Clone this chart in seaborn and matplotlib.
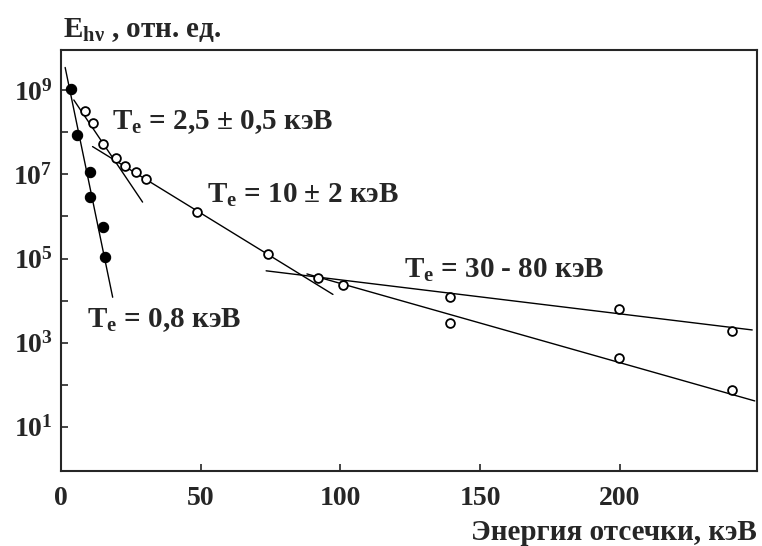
import numpy as np
import seaborn as sns
import matplotlib.pyplot as plt
from matplotlib.ticker import LogLocator, LogFormatterSciNotation, NullFormatter, FixedLocator

# =====================================#
# DATA
# =====================================#
# filled points, T_e = 0.8 keV
cold_E = [3.6, 5.8, 10.4, 10.4, 14.9, 15.7]
cold_I = [1.07e9, 8.7e7, 1.12e7, 2.95e6, 5.5e5, 1.1e5]

# open points
hot_E = [8.6, 11.3, 15.2, 19.6, 23.0, 26.8, 30.4, 48.8, 73.9, 92.1, 100.8,
         139.3, 139.2, 199.7, 199.7, 240.0, 240.0]
hot_I = [3.2e8, 1.7e8, 5.2e7, 2.5e7, 1.6e7, 1.12e7, 7.8e6, 1.3e6, 1.3e5,
         3.5e4, 2.3e4, 1.2e4, 2.9e3, 6.2e3, 4.2e2, 1.9e3, 7.4e1]

# fitted lines (end points)
fit_08_E = [1.5, 18.5]
fit_08_I = [3.5e9, 1.2e4]
fit_25_E = [4.6, 29.2]
fit_25_I = [5.9e8, 2.2e6]
fit_10_E = [11.3, 97.3]
fit_10_I = [4.6e7, 1.4e4]
fit_hi_E = [73.4, 247.3]
fit_hi_I = [5.1e4, 2.0e3]
fit_lo_E = [88.0, 248.2]
fit_lo_I = [4.3e4, 4.1e1]

labels = ["T$_\\mathrm{e}$ = 2,5 ± 0,5 кэВ", "T$_\\mathrm{e}$ = 10 ± 2 кэВ",
          "T$_\\mathrm{e}$ = 30 - 80 кэВ", "T$_\\mathrm{e}$ = 0,8 кэВ"]
label_E = [18.3, 52.3, 122.6, 9.3]
label_I = [1.2e8, 2.1e6, 3.5e4, 2.3e3]

x_ticks = [0, 50, 100, 150, 200]
y_major = [1e1, 1e3, 1e5, 1e7, 1e9]
y_minor = [1e2, 1e4, 1e6, 1e8]

# =====================================#
# STYLE
# =====================================#
sns.set_style("ticks")
plt.rcParams["font.family"] = ["Liberation Serif", "DejaVu Serif"]
plt.rcParams["font.weight"] = "bold"
plt.rcParams["mathtext.fontset"] = "custom"
plt.rcParams["mathtext.rm"] = "Liberation Serif:bold"
plt.rcParams["mathtext.it"] = "Liberation Serif:bold"
plt.rcParams["mathtext.bf"] = "Liberation Serif:bold"
fs_tick = 20
fs_text = 21

fig = plt.figure(figsize=(7.62, 5.46), dpi=100)
ax = fig.add_axes([0.080, 0.138, 0.9134, 0.770])

lw = 1.0
for xs, ys in [(fit_08_E, fit_08_I), (fit_25_E, fit_25_I), (fit_10_E, fit_10_I),
               (fit_hi_E, fit_hi_I), (fit_lo_E, fit_lo_I)]:
	sns.lineplot(x=xs, y=ys, ax=ax, color="black", linewidth=lw, sort=False)

sns.scatterplot(x=cold_E, y=cold_I, ax=ax, color="black", s=55,
                edgecolor="black", linewidth=0.8, zorder=3)
sns.scatterplot(x=hot_E, y=hot_I, ax=ax, facecolor="white", s=40,
                edgecolor="black", linewidth=1.3, zorder=3)

for t, xe, yi in zip(labels, label_E, label_I):
	ax.text(xe, yi, t, fontsize=fs_text, fontweight="bold", va="baseline", ha="left")

ax.set_yscale("log")
ax.set_xlim(0, 249)
ax.set_ylim(0.9, 9e9)
ax.yaxis.set_major_locator(FixedLocator(y_major))
ax.yaxis.set_major_formatter(LogFormatterSciNotation())
ax.yaxis.set_minor_locator(FixedLocator(y_minor))
ax.yaxis.set_minor_formatter(NullFormatter())
ax.set_xticks(x_ticks)
ax.set_xticklabels([str(v) for v in x_ticks])

ax.tick_params(which="both", direction="in", length=5, width=1.2,
               labelsize=fs_tick)
ax.tick_params(axis="x", pad=11)
ax.tick_params(axis="y", pad=6)
for s in ax.spines.values():
	s.set_linewidth(1.5)
	s.set_visible(True)

ax.set_xlabel("")
ax.set_ylabel("")
fig.text(63 / 762, 1 - 37 / 546, "E$_{\\mathrm{hν}}$ , отн. ед.", fontsize=fs_text,
         fontweight="bold", ha="left", va="baseline")
fig.text(757 / 762, 1 - 540 / 546, "Энергия отсечки, кэВ", fontsize=fs_text,
         fontweight="bold", ha="right", va="baseline")

plt.savefig("out.png", dpi=100)
